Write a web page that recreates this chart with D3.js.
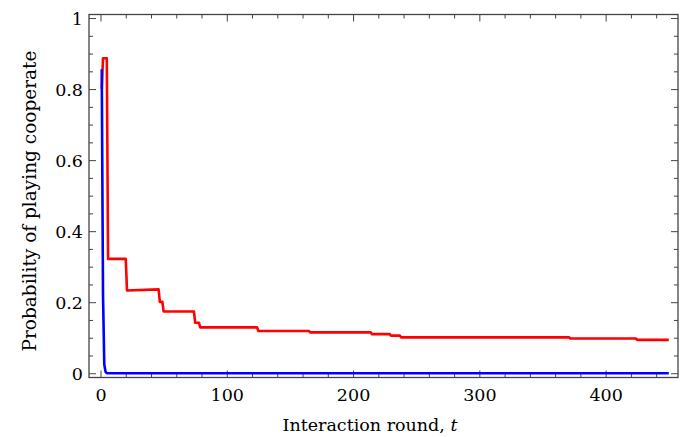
<!DOCTYPE html>
<html>
<head>
<meta charset="utf-8">
<script src="https://cdn.jsdelivr.net/npm/d3@7"></script>
<style>
  html, body { margin: 0; padding: 0; background: #fff; }
  svg text { font-family: "DejaVu Serif", serif; fill: #000; }
</style>
</head>
<body>
<svg id="chart" width="691" height="437"></svg>
<script>
// Interaction rounds (t) and the probability of cooperating, per player
const redT = [1, 2, 5, 6, 20, 21, 46, 47, 49, 50, 74, 75, 78, 79, 124, 125, 165, 166, 214, 215, 229, 230, 237, 238, 371, 372, 424, 425, 450];
const redP = [0.80, 0.887, 0.887, 0.322, 0.322, 0.233, 0.236, 0.201, 0.201, 0.174, 0.174, 0.142, 0.142, 0.129, 0.129, 0.119, 0.119, 0.115, 0.115, 0.110, 0.110, 0.106, 0.106, 0.101, 0.101, 0.098, 0.098, 0.094, 0.094];

const blueT = [1, 2, 3, 4, 5, 450];
const blueP = [0.856, 0.22, 0.025, 0.004, 0, 0];

const xMajor = [0, 100, 200, 300, 400];
const yMajor = [0, 0.2, 0.4, 0.6, 0.8, 1];
const yMajorLabels = ["0", "0.2", "0.4", "0.6", "0.8", "1"];

const svg = d3.select("#chart");
const frame = { left: 89, right: 678, top: 14.5, bottom: 377.5 };

const x = d3.scaleLinear().domain([-9.1, 457.3]).range([frame.left, frame.right]);
const y = d3.scaleLinear().domain([-0.012, 1.01]).range([frame.bottom, frame.top]);

const frameColor = "#444";
const majorLen = 7, minorLen = 4;

const xMinor = d3.range(0, 460, 20).filter(v => v % 100 !== 0);
const yMinor = d3.range(0, 1.001, 0.05).map(v => +v.toFixed(2)).filter(v => Math.round(v * 100) % 20 !== 0);

// Frame-side axes, ticks pointing inward
function sideAxis(axisFn, scale, vals, len, fmt) {
  return axisFn(scale).tickValues(vals).tickSizeInner(-len).tickSizeOuter(0).tickFormat(fmt || "");
}

const gB = svg.append("g").attr("transform", `translate(0,${frame.bottom})`);
gB.call(sideAxis(d3.axisBottom, x, xMinor, minorLen));
const gBM = svg.append("g").attr("transform", `translate(0,${frame.bottom})`);
gBM.call(sideAxis(d3.axisBottom, x, xMajor, majorLen, d3.format("d")));
gBM.selectAll("text").attr("dy", null).attr("y", 23).style("font-size", "17.5px");

const gT = svg.append("g").attr("transform", `translate(0,${frame.top})`);
gT.call(sideAxis(d3.axisTop, x, xMinor, minorLen));
svg.append("g").attr("transform", `translate(0,${frame.top})`)
  .call(sideAxis(d3.axisTop, x, xMajor, majorLen));

const gL = svg.append("g").attr("transform", `translate(${frame.left},0)`);
gL.call(sideAxis(d3.axisLeft, y, yMinor, minorLen));
const gLM = svg.append("g").attr("transform", `translate(${frame.left},0)`);
gLM.call(sideAxis(d3.axisLeft, y, yMajor, majorLen, (d, i) => yMajorLabels[i]));
gLM.selectAll("text").attr("x", -6).attr("dy", "0.36em").style("font-size", "17.5px");

svg.append("g").attr("transform", `translate(${frame.right},0)`)
  .call(sideAxis(d3.axisRight, y, yMinor, minorLen));
svg.append("g").attr("transform", `translate(${frame.right},0)`)
  .call(sideAxis(d3.axisRight, y, yMajor, majorLen));

svg.selectAll(".domain").remove();
svg.selectAll(".tick line").attr("stroke", frameColor).attr("stroke-width", 1);

svg.append("rect")
  .attr("x", frame.left).attr("y", frame.top)
  .attr("width", frame.right - frame.left).attr("height", frame.bottom - frame.top)
  .attr("fill", "none").attr("stroke", frameColor).attr("stroke-width", 1.3);

const line = d3.line().x(d => x(d[0])).y(d => y(d[1]));

svg.append("path")
  .datum(d3.zip(redT, redP))
  .attr("d", line)
  .attr("fill", "none").attr("stroke", "#ff0000").attr("stroke-width", 2.6)
  .attr("stroke-linejoin", "round");

svg.append("path")
  .datum(d3.zip(blueT, blueP))
  .attr("d", line)
  .attr("fill", "none").attr("stroke", "#0000ff").attr("stroke-width", 2.6)
  .attr("stroke-linejoin", "round");

// Axis titles
const xt = svg.append("text")
  .attr("x", 370).attr("y", 431)
  .attr("text-anchor", "middle").style("font-size", "17.5px");
xt.append("tspan").text("Interaction round, ");
xt.append("tspan").attr("font-style", "italic").text("t");

svg.append("text")
  .attr("transform", `translate(36,201) rotate(-90)`)
  .attr("text-anchor", "middle").style("font-size", "18.5px")
  .text("Probability of playing cooperate");
</script>
</body>
</html>
